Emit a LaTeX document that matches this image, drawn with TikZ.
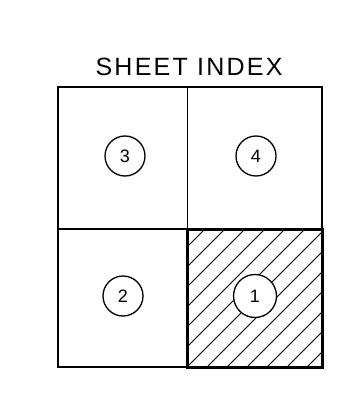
\documentclass[tikz,border=0pt]{standalone}
\usepackage{fontspec}
\setmainfont{Liberation Sans}
\newfontfamily\titlefont[LetterSpace=9]{Liberation Sans}
\usetikzlibrary{patterns}
\begin{document}
\begin{tikzpicture}[x=1pt,y=-1pt,
  thinline/.style={line width=1.1pt},
  thickbox/.style={line width=3pt},
  sheetnum/.style={circle,draw,line width=1.3pt,fill=white,minimum size=40pt,inner sep=0pt,font=\fontsize{18}{18}\selectfont},
  hatchline/.style={line width=0.9pt}]
\useasboundingbox (0,0) rectangle (352,406);
\node[font=\titlefont\fontsize{25}{26}\selectfont] (title) at (189,67) {SHEET INDEX};
% grid
\coordinate (tl) at (58,87);
\coordinate (tr) at (322,87);
\coordinate (bl) at (58,367);
\coordinate (br) at (322,367);
\coordinate (tm) at (187,87);
\coordinate (bm) at (187,367);
\coordinate (lm) at (58,229);
\coordinate (rm) at (322,229);
\coordinate (cc) at (187,229);
\draw[thinline] (tl) -- (tr) -- (br) -- (bl) -- cycle;
\draw[line width=0.8pt] (tm) -- (cc);
\draw[thinline] (lm) -- (cc);
% hatched sheet 1
\begin{scope}
\clip (cc) rectangle (br);
\foreach \i in {-7,...,8} {
  \draw[hatchline] (187+20*\i,367) -- ++(160,-160);
}
\end{scope}
\draw[thickbox] (cc) rectangle (br);
\node[sheetnum] (s3) at (125,156) {3};
\node[sheetnum] (s4) at (256,156) {4};
\node[sheetnum] (s2) at (123,296) {2};
\node[sheetnum,minimum size=43pt] (s1) at (255,296) {1};
\end{tikzpicture}
\end{document}
